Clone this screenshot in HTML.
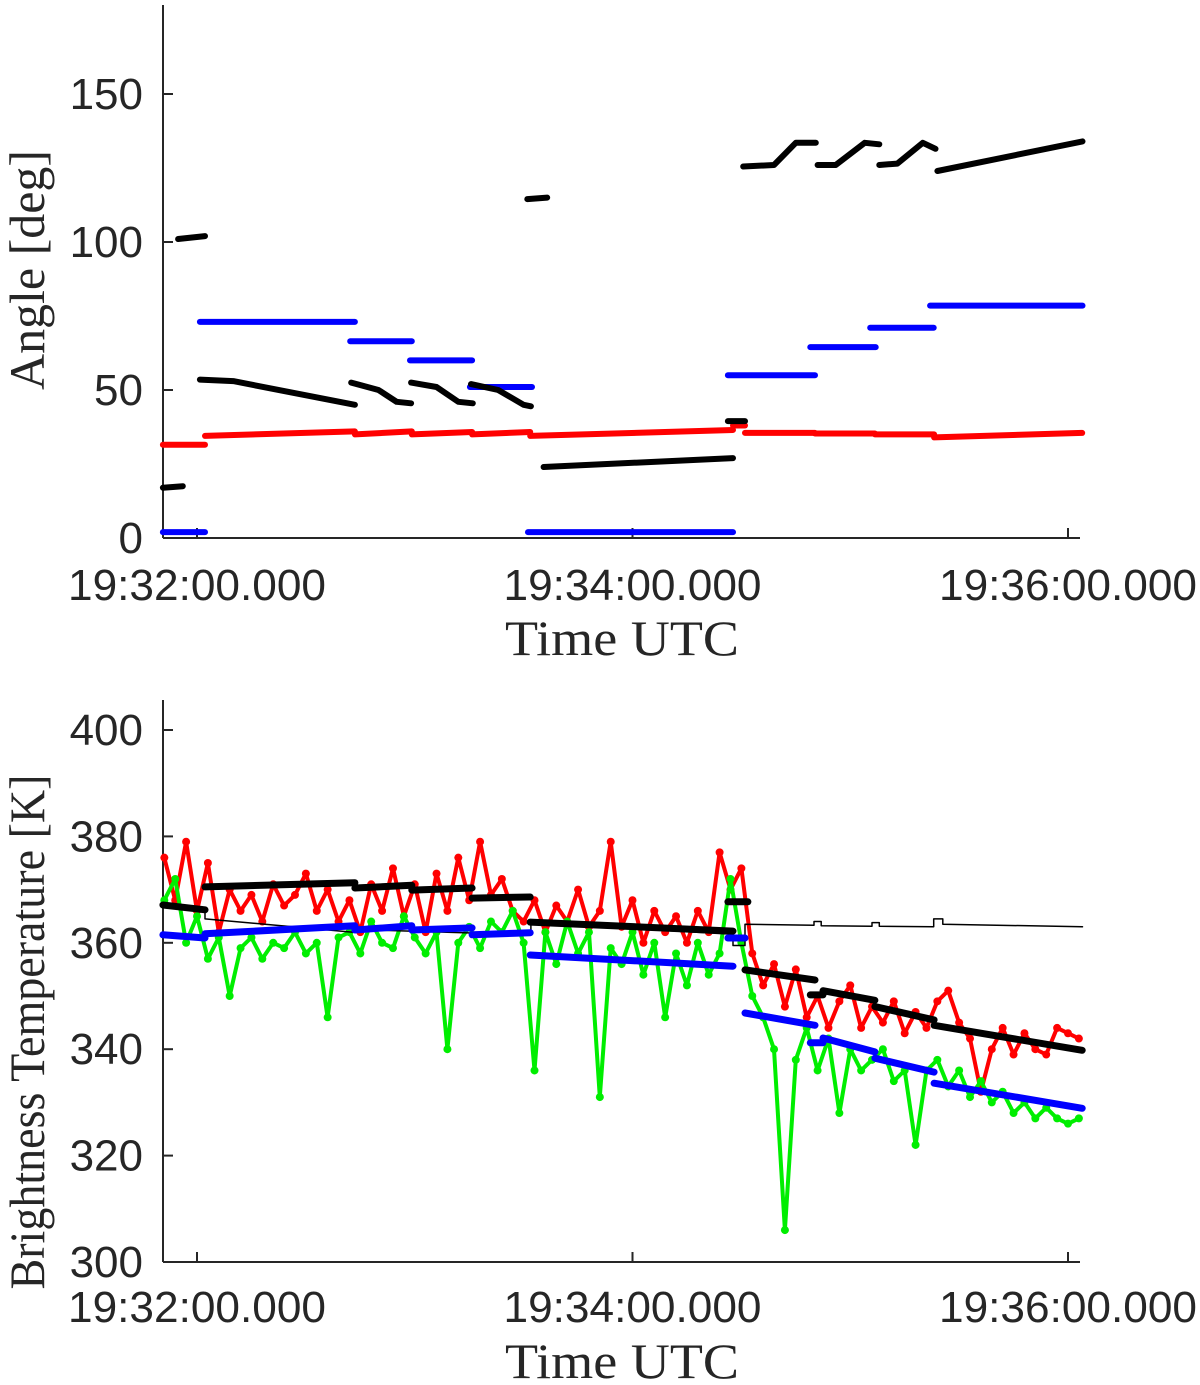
<!DOCTYPE html>
<html><head><meta charset="utf-8"><style>
body{margin:0;background:#fff;}
svg{display:block;}
.tk{font-family:"Liberation Sans",sans-serif;font-size:44px;fill:#262626;}
.tt{font-family:"Liberation Serif",serif;font-size:50px;fill:#262626;}
</style></head><body>
<svg id="chart" width="1200" height="1385" viewBox="0 0 1200 1385" xmlns="http://www.w3.org/2000/svg"></svg>
<script>
// ---- data (time in seconds after 19:32:00) ----
const xTickLabels = ["19:32:00.000","19:34:00.000","19:36:00.000"];
const xTickTimes = [0,120,240];
const topYTicks = [0,50,100,150];
const botYTicks = [300,320,340,360,380,400];

const topBlue = [[[-9.4,2],[2.2,2]],[[0.8,73],[43.5,73]],[[42.2,66.5],[59.2,66.5]],[[58.7,60],[75.8,60]],[[75.2,51],[92.3,51]],[[91.2,2],[147.7,2]],[[146.3,55],[170.3,55]],[[169,64.5],[187,64.5]],[[185.5,71],[203,71]],[[202,78.5],[244,78.5]]];
const topRed = [[[-9.4,31.5],[2.2,31.5]],[[2.2,34.5],[43.5,36]],[[43.5,35],[59.2,36]],[[59.2,35],[75.8,35.8]],[[75.8,35],[91.8,35.8]],[[91.8,34.5],[147.7,36.5]],[[147.7,38],[151,38]],[[151,35.5],[170.3,35.5]],[[170.3,35.3],[186.8,35.3]],[[186.8,35],[203.1,35]],[[203.1,34],[243.9,35.5]]];
const topBlack = [[[-9.4,17],[-3.9,17.5]],[[-5.2,101],[2.2,102]],[[0.8,53.5],[10,53],[43.5,45]],[[42.5,52.5],[50,50],[55,46],[59,45.5]],[[59,52.5],[66,51],[72,46],[76,45.5]],[[75.5,52],[83,50],[90,45],[92,44.5]],[[91,114.5],[96.5,115]],[[95.5,24],[147.7,27]],[[146.3,39.5],[151,39.5]],[[150.5,125.5],[159,126],[165,133.5],[170.5,133.5]],[[171,126],[176,126],[184,133.5],[188,133]],[[188,126],[193,126.5],[200,133.5],[203.5,131.5]],[[204,124],[244,134]]];

const redStart = -9, redStep = 3;
const redVals = [376,368,379,366,375,362,370,366,369,364,371,367,369,373,366,370,364,368,362,371,366,374,365,371,362,373,366,376,368,379,369,372,366,364,368,362,367,364,370,363,366,379,363,368,360,366,362,365,360,366,362,377,370,374,358,352,356,348,355,346,350,344,349,352,344,348,345,349,343,347,344,349,351,345,342,332,340,344,339,343,340,339,344,343,342];
const greenVals = [368,372,360,365,357,361,350,359,361,357,360,359,362,358,360,346,361,362,358,364,360,359,365,361,358,362,340,360,363,359,364,362,366,360,336,362,356,364,358,362,331,359,356,362,354,360,346,358,352,360,354,358,372,360,350,346,340,306,338,344,336,342,328,340,336,338,340,334,336,322,336,338,333,336,331,334,330,332,328,330,327,329,327,326,327];

const botBlack = [[[-9.4,367.1],[2.2,366.2]],[[2.2,370.5],[43.5,371.3]],[[43.5,370.3],[59.2,370.8]],[[59.2,369.9],[75.8,370.3]],[[75.8,368.4],[91.8,368.6]],[[91.8,363.9],[147.7,362.2]],[[146.3,367.7],[151.8,367.7]],[[151,354.9],[170.3,353]],[[169,350.2],[172.5,350.2]],[[172.5,351],[186.8,349.2]],[[186.8,348],[203.1,345.5]],[[203.1,344.5],[243.9,339.8]]];
const botBlue = [[[-9.4,361.5],[2.2,360.9]],[[2.2,361.7],[43.5,363.2]],[[43.5,362.4],[59.2,363.2]],[[59.2,362.4],[75.8,362.8]],[[75.8,361.5],[91.8,361.9]],[[91.8,357.7],[147.7,355.6]],[[146.3,360.9],[151,360.9]],[[151,346.8],[170.3,344.5]],[[169,341.2],[172.5,341.2]],[[172.5,342.1],[186.8,339.5]],[[186.8,338.3],[203.1,335.7]],[[203.1,333.6],[243.9,328.9]]];
const botThin = [[-9.4,367],[2.2,366.5],[2.2,364.5],[43,362],[44,362.5],[92,361.5],[92,363.7],[147.7,361.6],[147.7,359.5],[151,359.5],[151,363.5],[170,363.3],[170,364],[172,364],[172,363.2],[186,363.1],[186,363.8],[188,363.8],[188,363.1],[203,363],[203,364.5],[205.5,364.5],[205.5,363.5],[244,363]];

// ---- axes ----
const NS="http://www.w3.org/2000/svg";
const svg=document.getElementById('chart');
const X0=163,X1=1080;
const xs=t=>197+t*(435.5/120);
const ysTop=v=>538-v*2.96;
const ysBot=v=>1262-(v-300)*5.32;
function el(tag,attrs,parent){const e=document.createElementNS(NS,tag);for(const k in attrs)e.setAttribute(k,attrs[k]);(parent||svg).appendChild(e);return e;}

function drawAxes(name,yb,ytop,ticks,ys,labY,titleY,ytitle,ytitleY,ytitleLen){
  const g=el('g',{});
  
  
  el('line',{x1:X0,y1:ytop,x2:X0,y2:yb,stroke:'#262626','stroke-width':2},g);
  el('line',{x1:X0,y1:yb,x2:X1,y2:yb,stroke:'#262626','stroke-width':2},g);
  ticks.forEach(v=>{
    const y=ys(v);
    el('line',{x1:X0,y1:y,x2:X0+10,y2:y,stroke:'#262626','stroke-width':2},g);
    const t=el('text',{x:143,y:y+15,'text-anchor':'end',class:'tk'},g);t.textContent=v;
    
    
  });
  xTickTimes.forEach((tt,i)=>{
    const x=xs(tt);
    el('line',{x1:x,y1:yb,x2:x,y2:yb-10,stroke:'#262626','stroke-width':2},g);
    const t=el('text',{x:x,y:labY,'text-anchor':'middle',class:'tk',textLength:258,lengthAdjust:'spacingAndGlyphs'},g);t.textContent=xTickLabels[i];
    
    
  });
  const xt=el('text',{x:622,y:titleY,'text-anchor':'middle',class:'tt',textLength:234,lengthAdjust:'spacingAndGlyphs'},g);xt.textContent='Time UTC';
  
  
  const yt=el('text',{x:0,y:0,'text-anchor':'middle',class:'tt',textLength:ytitleLen,lengthAdjust:'spacingAndGlyphs',transform:`translate(44,${ytitleY}) rotate(-90)`},g);yt.textContent=ytitle;
  
  
}
function segs(list,ys,color,w,name){
  list.forEach(s=>{
    const p=el('polyline',{points:s.map(q=>xs(q[0]).toFixed(1)+','+ys(q[1]).toFixed(1)).join(' '),fill:'none',stroke:color,'stroke-width':w,'stroke-linecap':'round','stroke-linejoin':'round'});
    
    
  });
}
function scatter(vals,color,name){
  const pts=vals.map((v,i)=>[redStart+i*redStep,v]);
  const p=el('polyline',{points:pts.map(q=>xs(q[0]).toFixed(1)+','+ysBot(q[1]).toFixed(1)).join(' '),fill:'none',stroke:color,'stroke-width':4,'stroke-linejoin':'round'});
  
  
  pts.forEach(q=>{
    const c=el('circle',{cx:xs(q[0]),cy:ysBot(q[1]),r:4,fill:color});
    
    
  });
}

drawAxes('top',538,5,topYTicks,ysTop,600,655,'Angle [deg]',270,240);
segs(topRed,ysTop,'#ff0000',6,'top-red-series');
segs(topBlue,ysTop,'#0000ff',6,'top-blue-series');
segs(topBlack,ysTop,'#000000',6,'top-black-series');

drawAxes('bottom',1262,700,botYTicks,ysBot,1322,1378,'Brightness Temperature [K]',1032,515);
scatter(redVals,'#ff0000','red-scatter');
scatter(greenVals,'#00ee00','green-scatter');
segs([botThin],ysBot,'#000000',1.5,'thin-black-line');
segs(botBlue,ysBot,'#0000ff',7,'bottom-blue-series');
segs(botBlack,ysBot,'#000000',7,'bottom-black-series');
</script>
</body></html>
